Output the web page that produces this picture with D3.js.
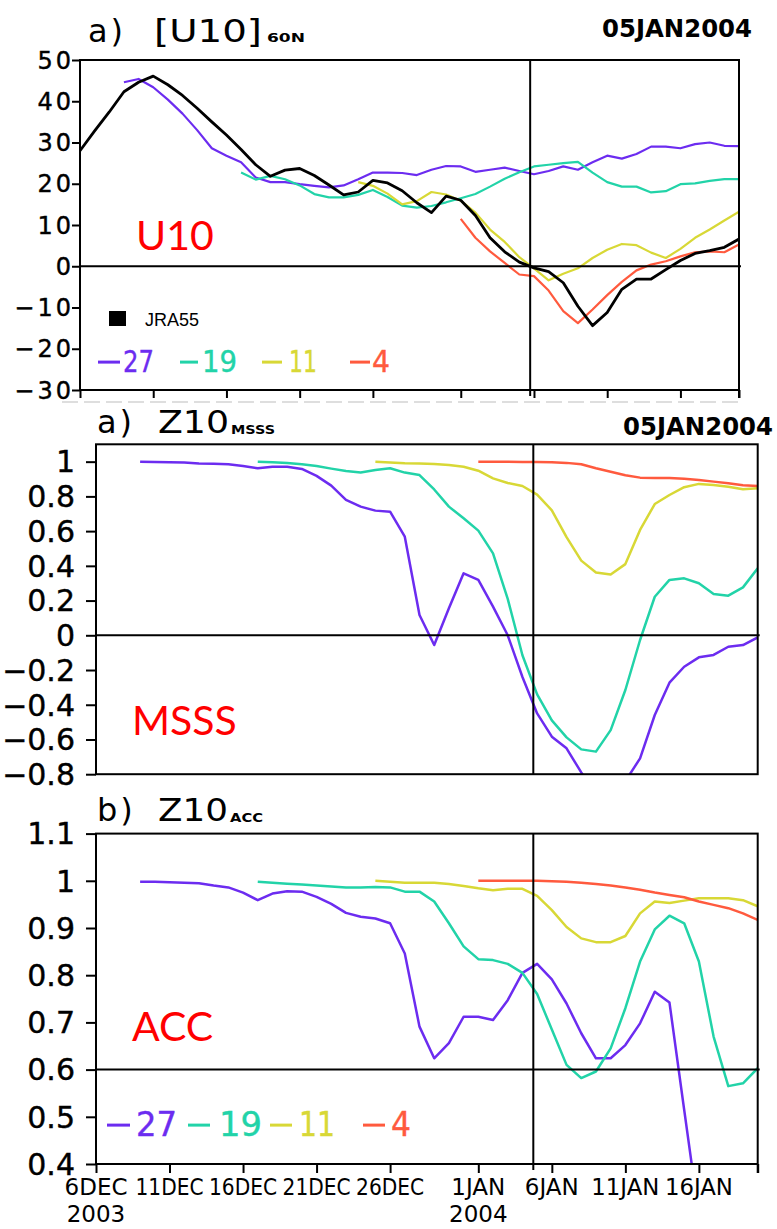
<!DOCTYPE html>
<html><head><meta charset="utf-8">
<script src="https://cdn.jsdelivr.net/npm/d3@7"></script>
<style>body{margin:0;background:#fff}svg{display:block}</style>
</head><body>
<svg id="c" width="777" height="1229"></svg>
<script>
// ================= DATA =================
// x values are days since 6 DEC 2003
const dayTicks = [0, 5, 10, 15, 20, 26, 31, 36, 41];
const dayTickLabels = ["6DEC", "11DEC", "16DEC", "21DEC", "26DEC", "1JAN", "6JAN", "11JAN", "16JAN"];
const yearTickDays = [0, 26];
const yearTickLabels = ["2003", "2004"];
const dayDomain = [0, 45];
const markerDayU10 = 30.74;
const markerDayZ10 = 29.74;
const markerDateLabel = "05JAN2004";

const leadLabels = ["27", "19", "11", "4"];
const leadColors = ["#6c2cf0", "#22d3a8", "#d8d836", "#ff5a3e"];
const leadStarts = [3, 11, 19, 26];

const u10Ticks = [50, 40, 30, 20, 10, 0, -10, -20, -30];
const msssTicks = [1, 0.8, 0.6, 0.4, 0.2, 0, -0.2, -0.4, -0.6, -0.8];
const accTicks = [1.1, 1, 0.9, 0.8, 0.7, 0.6, 0.5, 0.4];

// U10 at 60N (m/s)
const u10Jra55Start = 0;
const u10Jra55 = [28.0, 32.8, 37.4, 42.3, 44.6, 46.1, 44.0, 41.4, 38.3, 35.0, 31.8, 28.3, 24.6, 21.8, 23.3, 23.7,
  22.0, 19.7, 17.3, 18.0, 20.8, 20.2, 18.3, 15.4, 13.0, 17.0, 16.0, 12.3, 6.9, 3.5, 1.0, -0.4, -1.3, -4.0, -9.7,
  -14.4, -11.2, -5.6, -3.1, -3.1, -0.8, 1.4, 3.1, 3.8, 4.6, 6.6];
const u10Lead27 = [44.6, 45.4, 43.4, 40.4, 37.0, 33.0, 28.6, 26.8, 25.2, 21.5, 20.4, 20.4, 19.9, 19.5, 19.1, 19.6,
  21.1, 22.7, 22.7, 22.6, 22.1, 23.4, 24.3, 24.2, 22.9, 23.4, 23.9, 23.1, 22.3, 23.1, 24.2, 23.4, 25.2, 26.8, 26.1,
  27.2, 29.0, 29.0, 28.6, 29.6, 30.0, 29.2, 29.1];
const u10Lead19 = [22.7, 21.0, 21.9, 21.1, 19.6, 17.5, 16.7, 16.7, 17.3, 18.5, 16.8, 14.7, 14.2, 14.6, 15.5, 16.5,
  17.5, 19.3, 21.2, 22.8, 24.2, 24.6, 25.0, 25.3, 22.7, 20.4, 19.3, 19.3, 17.9, 18.2, 19.9, 20.1, 20.7, 21.1, 21.1];
const u10Lead11 = [20.4, 19.5, 17.6, 15.0, 15.8, 18.0, 17.4, 15.9, 13.0, 8.9, 5.9, 2.2, -0.5, -3.4, -1.8, -0.5,
  2.0, 4.0, 5.4, 5.1, 3.3, 2.0, 4.2, 6.9, 8.9, 11.1, 13.2];
const u10Lead4 = [11.5, 6.9, 3.6, 0.8, -2.0, -2.4, -5.9, -10.9, -13.8, -10.5, -7.0, -3.8, -1.0, 0.4, 1.2, 2.4, 3.4,
  3.6, 3.4, 5.3];

// Z10 MSSS
const msssLead27 = [1.0, 0.998, 0.997, 0.995, 0.99, 0.988, 0.985, 0.975, 0.962, 0.971, 0.971, 0.958, 0.918, 0.862,
  0.78, 0.741, 0.718, 0.712, 0.568, 0.117, -0.056, 0.156, 0.357, 0.319, 0.165, 0.0, -0.24, -0.45, -0.584, -0.651,
  -0.79, -0.92, -0.95, -0.84, -0.709, -0.459, -0.273, -0.181, -0.127, -0.113, -0.066, -0.056, -0.012];
const msssLead19 = [1.0, 0.997, 0.992, 0.985, 0.975, 0.96, 0.946, 0.937, 0.952, 0.962, 0.937, 0.923, 0.84, 0.741,
  0.674, 0.603, 0.472, 0.21, -0.115, -0.34, -0.49, -0.588, -0.657, -0.67, -0.546, -0.315, -0.027, 0.222, 0.319,
  0.328, 0.3, 0.238, 0.228, 0.276, 0.386];
const msssLead11 = [1.0, 0.995, 0.991, 0.99, 0.987, 0.981, 0.971, 0.948, 0.904, 0.877, 0.86, 0.81, 0.72, 0.565,
  0.43, 0.362, 0.35, 0.41, 0.607, 0.756, 0.808, 0.853, 0.872, 0.866, 0.856, 0.841, 0.847];
const msssLead4 = [1.0, 1.0, 0.999, 0.998, 0.998, 0.997, 0.993, 0.985, 0.962, 0.942, 0.922, 0.908, 0.906, 0.906,
  0.902, 0.895, 0.885, 0.876, 0.864, 0.86];

// Z10 ACC
const accLead27 = [0.998, 0.998, 0.997, 0.996, 0.995, 0.99, 0.986, 0.975, 0.959, 0.973, 0.978, 0.977, 0.966, 0.951,
  0.932, 0.924, 0.92, 0.91, 0.846, 0.691, 0.624, 0.656, 0.712, 0.712, 0.705, 0.747, 0.805, 0.824, 0.791, 0.74,
  0.677, 0.624, 0.624, 0.652, 0.698, 0.765, 0.742, 0.515, 0.29];
const accLead19 = [0.998, 0.996, 0.994, 0.992, 0.99, 0.988, 0.986, 0.986, 0.987, 0.986, 0.977, 0.977, 0.956, 0.91,
  0.861, 0.834, 0.832, 0.824, 0.805, 0.76, 0.685, 0.61, 0.582, 0.596, 0.645, 0.73, 0.829, 0.897, 0.926, 0.91,
  0.829, 0.67, 0.565, 0.571, 0.603];
const accLead11 = [1.0, 0.998, 0.996, 0.996, 0.996, 0.993, 0.989, 0.984, 0.98, 0.983, 0.983, 0.968, 0.938, 0.902,
  0.878, 0.87, 0.87, 0.883, 0.931, 0.956, 0.953, 0.958, 0.963, 0.963, 0.963, 0.959, 0.946];
const accLead4 = [1.0, 1.0, 1.0, 1.0, 1.0, 0.999, 0.998, 0.996, 0.993, 0.99, 0.986, 0.981, 0.975, 0.97, 0.965,
  0.956, 0.949, 0.942, 0.931, 0.917];

// ================= DRAWING =================
const svg = d3.select("#c");
const GF = "'DejaVu Sans', sans-serif";
const toPts = (arr, start) => arr.map((v, i) => [start + i, v]);
const fmt = d => (Math.round(d * 10) / 10).toString().replace("-", "\u2212");

function panel(o) {
  const x = d3.scaleLinear().domain(dayDomain).range(o.xr);
  const y = d3.scaleLinear().domain(o.yd).range(o.yr);
  const g = svg.append("g");
  const id = "clip" + o.name;
  svg.append("defs").append("clipPath").attr("id", id).append("rect")
    .attr("x", o.xr[0]).attr("y", o.yr[1]).attr("width", o.xr[1] - o.xr[0]).attr("height", o.yr[0] - o.yr[1]);

  const ya = d3.axisLeft(y).tickValues(o.yTicks).tickSize(o.tick).tickSizeOuter(0).tickFormat("");
  const yag = g.append("g").attr("transform", `translate(${o.xr[0]},0)`).call(ya);
  yag.select(".domain").remove();
  yag.selectAll("line").attr("stroke", "#000").attr("stroke-width", 2);
  g.selectAll(null).data(o.yTicks).join("text")
    .attr("x", o.labelX).attr("y", d => y(d)).attr("dy", "0.36em")
    .attr("text-anchor", "end").attr("font-family", GF).attr("font-size", o.labelSize)
    .attr("stroke", "#000").attr("stroke-width", 0.4)
    .attr("letter-spacing", o.ls || 0).text(fmt);

  if (o.xTicks) {
    const xa = d3.axisBottom(x).tickValues(dayTicks.concat([45])).tickSize(o.xTickLen).tickSizeOuter(0).tickFormat("");
    const xag = g.append("g").attr("transform", `translate(0,${o.yr[0]})`).call(xa);
    xag.select(".domain").remove();
    xag.selectAll("line").attr("stroke", "#000").attr("stroke-width", 2);
  }

  const line = d3.line().x(d => x(d[0])).y(d => y(d[1]));
  const cg = g.append("g").attr("clip-path", `url(#${id})`);
  o.series.forEach(s => {
    cg.append("path").attr("d", line(s.pts)).attr("fill", "none").attr("stroke", s.color)
      .attr("stroke-width", s.w).attr("stroke-linejoin", "round");
  });

  g.append("line").attr("x1", o.xr[0]).attr("x2", o.xr[1] + 2).attr("y1", y(o.ref)).attr("y2", y(o.ref))
    .attr("stroke", "#000").attr("stroke-width", 2);
  g.append("line").attr("x1", x(o.marker)).attr("x2", x(o.marker)).attr("y1", o.yr[1]).attr("y2", o.yr[0] + (o.xTicks ? 6 : 0))
    .attr("stroke", "#000").attr("stroke-width", 2);

  g.append("rect").attr("x", o.xr[0]).attr("y", o.yr[1]).attr("width", o.xr[1] - o.xr[0]).attr("height", o.yr[0] - o.yr[1])
    .attr("fill", "none").attr("stroke", "#000").attr("stroke-width", 2);
  if (o.xTicks) {
    g.append("line").attr("x1", o.xr[1]).attr("x2", o.xr[1]).attr("y1", o.yr[0]).attr("y2", o.yr[0] + o.xTickLen)
      .attr("stroke", "#000").attr("stroke-width", 2);
  }
  return { x, y, g };
}

function title(tx, ty, letter, main, mainX, mainW) {
  svg.append("text").attr("x", tx).attr("y", ty).attr("font-family", GF).attr("font-size", 32)
    .attr("letter-spacing", 3).text(letter);
  svg.append("text").attr("x", mainX).attr("y", ty).attr("font-family", GF).attr("font-size", 32)
    .attr("textLength", mainW).attr("lengthAdjust", "spacingAndGlyphs").text(main);
}
function subText(x, y, s, w) {
  svg.append("text").attr("x", x).attr("y", y).attr("font-family", GF).attr("font-size", 13)
    .attr("font-weight", "bold").attr("textLength", w).attr("lengthAdjust", "spacingAndGlyphs").text(s);
}
function dateLabel(xEnd, y) {
  svg.append("text").attr("x", xEnd).attr("y", y).attr("text-anchor", "end").attr("font-family", GF)
    .attr("font-size", 24).attr("font-weight", "bold").attr("textLength", 150).attr("lengthAdjust", "spacingAndGlyphs")
    .text(markerDateLabel);
}
function redLabel(x, y, s) {
  svg.append("text").attr("x", x).attr("y", y).attr("font-family", "Lato, 'Open Sans', sans-serif")
    .attr("font-size", 41).attr("fill", "#ff0000").text(s);
}
function legend(items, y, size) {
  items.forEach((it, i) => {
    svg.append("line").attr("x1", it.d0).attr("x2", it.d1).attr("y1", y - size * 0.33).attr("y2", y - size * 0.33)
      .attr("stroke", leadColors[i]).attr("stroke-width", 3);
    svg.append("text").attr("x", it.t0).attr("y", y).attr("font-family", GF).attr("font-size", size)
      .attr("fill", leadColors[i]).attr("stroke", leadColors[i]).attr("stroke-width", 0.4)
      .attr("textLength", it.tw).attr("lengthAdjust", "spacingAndGlyphs").text(leadLabels[i]);
  });
}

// ---------- Panel 1: U10 ----------
const u10Series = [u10Lead27, u10Lead19, u10Lead11, u10Lead4].map((a, i) => ({ pts: toPts(a, leadStarts[i]), color: leadColors[i], w: 2.2 }));
u10Series.push({ pts: toPts(u10Jra55, u10Jra55Start), color: "#000", w: 2.8 });
panel({
  name: "u10", xr: [80, 739], yd: [-30, 50], yr: [390, 60], yTicks: u10Ticks, tick: 8,
  labelX: 74, labelSize: 24, ls: 3, xTicks: true, xTickLen: 8, ref: 0, marker: markerDayU10, series: u10Series
});
svg.append("line").attr("x1", 62).attr("x2", 742).attr("y1", 402).attr("y2", 402)
  .attr("stroke", "#d4d4d4").attr("stroke-width", 1.5).attr("stroke-dasharray", "16,6");
title(88, 42, "a)", "[U10]", 154, 108);
subText(267, 42, "60N", 38);
dateLabel(752, 37);
redLabel(136, 250, "U10");
svg.append("rect").attr("x", 109).attr("y", 311).attr("width", 17).attr("height", 15).attr("fill", "#000");
svg.append("text").attr("x", 145).attr("y", 326).attr("font-family", "'Liberation Sans', Arial, sans-serif")
  .attr("font-size", 18).text("JRA55");
legend([
  { d0: 98, d1: 120, t0: 123, tw: 31 },
  { d0: 180, d1: 198, t0: 202, tw: 35 },
  { d0: 262, d1: 282, t0: 289, tw: 28 },
  { d0: 350, d1: 370, t0: 372, tw: 18 }
], 372, 30);

// ---------- Panel 2: Z10 MSSS ----------
const msssSeries = [msssLead27, msssLead19, msssLead11, msssLead4].map((a, i) => ({ pts: toPts(a, leadStarts[i]), color: leadColors[i], w: 2.5 }));
panel({
  name: "msss", xr: [96, 757.7], yd: [-0.8, 1.1], yr: [774.2, 444.3], yTicks: msssTicks, tick: 10,
  labelX: 75, labelSize: 30, xTicks: false, ref: 0, marker: markerDayZ10, series: msssSeries
});
title(97, 433, "a)", "Z10", 158, 71);
subText(231, 434, "MSSS", 44);
dateLabel(773, 435);
redLabel(132, 735, "MSSS");

// ---------- Panel 3: Z10 ACC ----------
const accSeries = [accLead27, accLead19, accLead11, accLead4].map((a, i) => ({ pts: toPts(a, leadStarts[i]), color: leadColors[i], w: 2.5 }));
const p3 = panel({
  name: "acc", xr: [96, 757.7], yd: [0.4, 1.1], yr: [1164, 833.6], yTicks: accTicks, tick: 10,
  labelX: 75, labelSize: 30, xTicks: true, xTickLen: 9, ref: 0.6, marker: markerDayZ10, series: accSeries
});
title(97, 821, "b)", "Z10", 158, 70);
subText(230, 822, "ACC", 33);
redLabel(132, 1041, "ACC");
legend([
  { d0: 107, d1: 130, t0: 136, tw: 41 },
  { d0: 188, d1: 210, t0: 219, tw: 43 },
  { d0: 270, d1: 292, t0: 299, tw: 36 },
  { d0: 363, d1: 385, t0: 391, tw: 20 }
], 1136, 33);

const xl = svg.selectAll(null).data(dayTicks).join("text")
  .attr("x", d => p3.x(d)).attr("y", 1195).attr("text-anchor", "middle").attr("font-family", GF)
  .attr("font-size", 23).text((d, i) => dayTickLabels[i]);
xl.each(function () { const w = this.getComputedTextLength(); d3.select(this).attr("textLength", Math.min(w, 68)).attr("lengthAdjust", "spacingAndGlyphs"); });
const yl = svg.selectAll(null).data(yearTickDays).join("text")
  .attr("x", d => p3.x(d)).attr("y", 1222).attr("text-anchor", "middle").attr("font-family", GF)
  .attr("font-size", 23).text((d, i) => yearTickLabels[i]);
</script>
</body></html>
